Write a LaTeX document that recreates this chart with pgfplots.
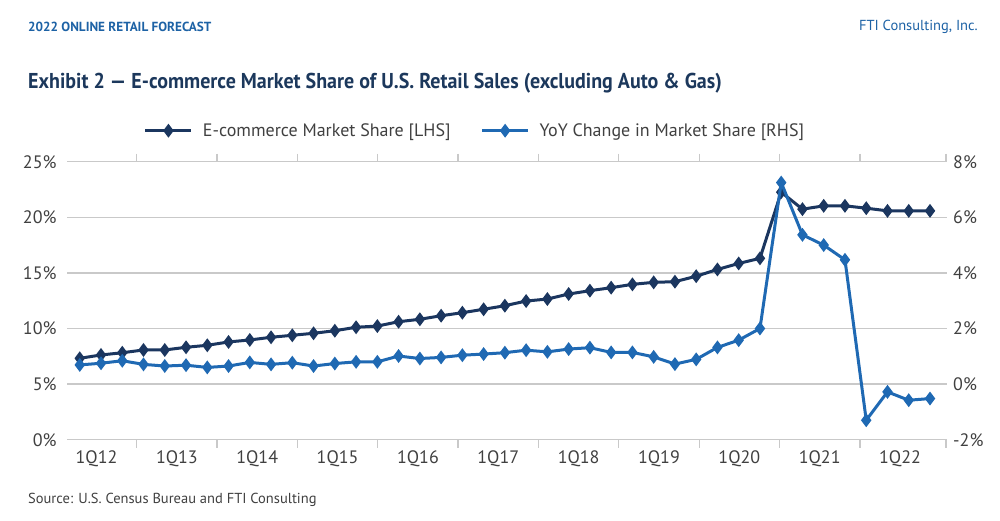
\documentclass[border=0pt]{standalone}
\usepackage{pgfplots}
\usepackage{pgfplotstable}
\pgfplotsset{compat=1.18}
\usepackage{fontspec}
\setmainfont{PT Sans}
\definecolor{navy}{HTML}{1B365F}
\definecolor{lblue}{HTML}{1F69B3}
\definecolor{hblue}{HTML}{1D62A5}
\definecolor{tnavy}{HTML}{1C385C}
\definecolor{txt}{HTML}{404040}
\definecolor{gridc}{HTML}{C9C9C9}

\pgfplotstableread{
x y
0 7.32
1 7.62
2 7.82
3 8.07
4 8.07
5 8.31
6 8.49
7 8.79
8 8.97
9 9.21
10 9.39
11 9.57
12 9.80
13 10.11
14 10.22
15 10.61
16 10.83
17 11.15
18 11.42
19 11.73
20 12.05
21 12.47
22 12.65
23 13.10
24 13.40
25 13.67
26 13.97
27 14.15
28 14.21
29 14.70
30 15.31
31 15.85
32 16.31
33 22.26
34 20.73
35 21.03
36 21.03
37 20.82
38 20.58
39 20.58
40 20.58
}\share

\pgfplotstableread{
x y
0 0.69
1 0.75
2 0.84
3 0.71
4 0.65
5 0.68
6 0.60
7 0.65
8 0.78
9 0.71
10 0.77
11 0.65
12 0.74
13 0.80
14 0.80
15 1.01
16 0.92
17 0.96
18 1.04
19 1.08
20 1.13
21 1.22
22 1.16
23 1.26
24 1.31
25 1.14
26 1.14
27 0.98
28 0.72
29 0.89
30 1.32
31 1.58
32 2.00
33 7.25
34 5.37
35 5.00
36 4.47
37 -1.30
38 -0.28
39 -0.58
40 -0.52
}\yoy

\begin{document}
\begin{tikzpicture}[x=1pt,y=1pt]
\useasboundingbox (0,0) rectangle (1000,520);
\node[anchor=west, text=hblue, font=\fontsize{13.2}{15}\selectfont\bfseries, inner sep=0pt] at (28,493) {2022 ONLINE RETAIL FORECAST};
\node[anchor=east, text=hblue, font=\fontsize{14.5}{16}\selectfont, inner sep=0pt] at (978,493) {FTI Consulting, Inc.};
\node[anchor=west, text=tnavy, font=\fontsize{21.5}{24}\selectfont\bfseries, inner sep=0pt] at (28,437) {\scalebox{0.93}[1]{Exhibit 2 --- E-commerce Market Share of U.S. Retail Sales (excluding Auto \& Gas)}};
\node[anchor=west, text=txt, font=\fontsize{14.5}{16}\selectfont, inner sep=0pt] at (28,20) {Source: U.S. Census Bureau and FTI Consulting};

\begin{axis}[
  at={(67pt,80.3pt)}, anchor=south west,
  scale only axis, width=880pt, height=278pt,
  xmin=-0.6, xmax=40.8, ymin=0, ymax=25,
  ytick={0,5,...,25},
  yticklabel={\pgfmathprintnumber{\tick}\%},
  /pgf/number format/assume math mode=true,
  ymajorgrids, grid style={gridc, line width=1.3pt},
  axis line style={draw=none},
  ytick style={draw=none},
  yticklabel style={font=\fontsize{18}{20}\selectfont, text=txt, anchor=east, inner sep=0pt, xshift=-6pt},
  xtick={0.79,4.57,8.35,12.13,15.91,19.69,23.47,27.25,31.03,34.81,38.59},
  xticklabels={1Q12,1Q13,1Q14,1Q15,1Q16,1Q17,1Q18,1Q19,1Q20,1Q21,1Q22},
  major x tick style={draw=none},
  minor xtick={2.68,6.46,10.24,14.02,17.80,21.58,25.36,29.14,32.92,36.70,40.75},
  minor x tick style={draw=gridc, line width=1.3pt},
  minor tick length=8pt, tick align=outside,
  xticklabel style={font=\fontsize{18}{20}\selectfont, text=txt, anchor=north, inner sep=0pt, yshift=-7pt},
  clip=false,
]
\addplot[navy, line width=3pt, mark=diamond*, mark size=4.5pt, mark options={solid, fill=navy}] table[x=x,y=y] {\share};
\end{axis}

\begin{axis}[
  at={(67pt,80.3pt)}, anchor=south west,
  scale only axis, width=880pt, height=278pt,
  xmin=-0.6, xmax=40.8, ymin=-2, ymax=8,
  ytick={-2,0,...,8},
  yticklabel={\pgfmathprintnumber{\tick}\%},
  /pgf/number format/assume math mode=true,
  axis y line*=right, axis x line=none,
  axis line style={draw=none},
  ytick style={draw=none},
  yticklabel style={font=\fontsize{18}{20}\selectfont, text=txt, anchor=west, inner sep=0pt, xshift=6pt},
  clip=false,
  legend style={at={(0.4625,1.1115)}, anchor=center, draw=none, fill=none,
    font=\fontsize{18}{20}\selectfont, text=txt, legend columns=2,
    /tikz/every odd column/.append style={column sep=10pt},
    /tikz/every even column/.append style={column sep=30pt},
    nodes={inner sep=0pt, anchor=west}},
  legend image code/.code={\draw[#1,mark repeat=2,mark phase=2] plot coordinates {(0pt,0pt) (23pt,0pt) (46pt,0pt)};},
]
\addlegendimage{navy, line width=3pt, mark=diamond*, mark size=4.5pt, mark options={solid, fill=navy}}
\addlegendentry{E-commerce Market Share [LHS]}
\addplot[lblue, line width=3pt, mark=diamond*, mark size=4.5pt, mark options={solid, fill=lblue}] table[x=x,y=y] {\yoy};
\addlegendentry{YoY Change in Market Share [RHS]}
\end{axis}
\end{tikzpicture}
\end{document}
